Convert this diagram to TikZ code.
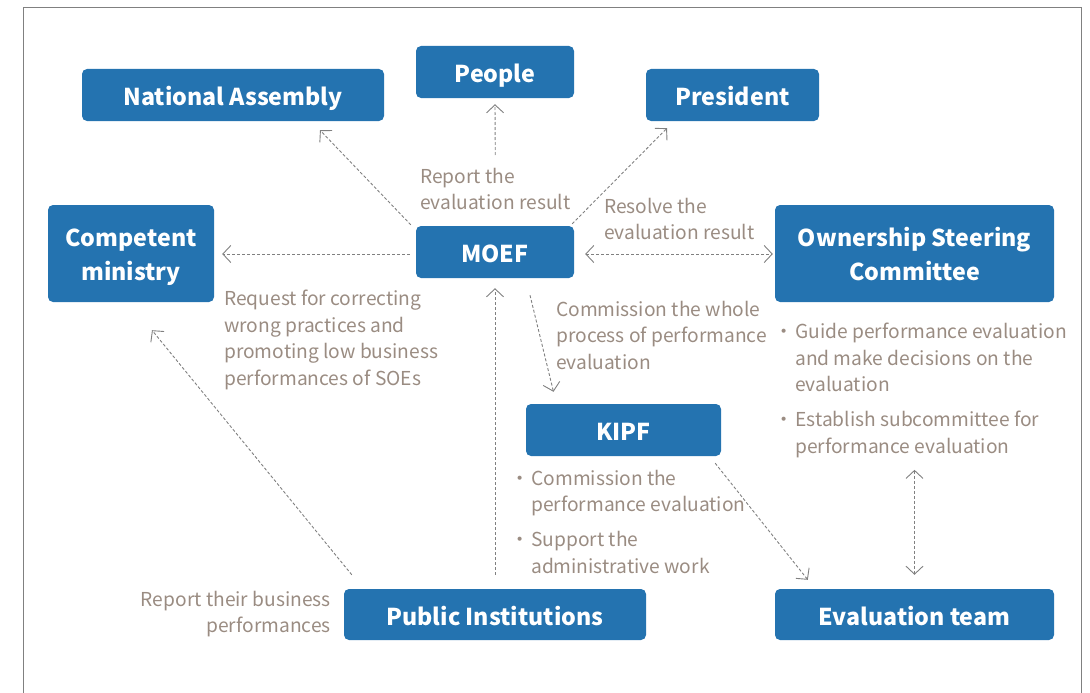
\documentclass[tikz,border=0pt]{standalone}
\usepackage{fontspec}
\setmainfont{Noto Sans CJK KR}
\usetikzlibrary{arrows.meta,calc}
\definecolor{boxblue}{HTML}{2473B0}
\definecolor{notegray}{HTML}{9A8C82}
\definecolor{linegray}{HTML}{808080}
\tikzset{
  orgbox/.style={fill=boxblue, rounded corners=5pt, text=white, inner sep=0pt,
    font=\fontsize{23.2}{34}\selectfont\bfseries, align=center},
  onebox/.style={orgbox, text height=21pt, text depth=0pt},
  twobox/.style={orgbox, text height=53pt, text depth=0pt},
  note/.style={text=notegray, inner sep=0pt, anchor=north west, align=left,
    font=\fontsize{19.2}{26.5}\selectfont},
  conn/.style={draw=linegray, line width=0.9pt, dash pattern=on 3pt off 2pt,
    -{Straight Barb[length=8pt,width=17pt,line width=0.9pt]}},
  biconn/.style={conn, {Straight Barb[length=8pt,width=17pt,line width=0.9pt]}-{Straight Barb[length=8pt,width=17pt,line width=0.9pt]}}
}
\newcommand{\bul}{・\hspace{2pt}}
\newcommand{\ind}{\hspace*{21pt}}
\begin{document}
\begin{tikzpicture}[x=1pt,y=-1pt]
    \useasboundingbox (0,0) rectangle (1090,693);
    % Frame
    \draw[gray, line width=1pt] (23,693) -- (23,7.5) -- (1081,7.5) -- (1081,693);

    % Boxes
    \node[onebox, minimum width=302pt, minimum height=52pt] (na) at (233,95) {National Assembly};
    \node[onebox, minimum width=158pt, minimum height=52pt] (people) at (495,72) {People};
    \node[onebox, minimum width=173pt, minimum height=52pt] (pres) at (732.5,95) {President};
    \node[twobox, minimum width=166pt, minimum height=97pt] (cm) at (131,253.5) {Competent\\ministry};
    \node[onebox, minimum width=158pt, minimum height=52pt] (moef) at (495,252) {MOEF};
    \node[twobox, minimum width=279pt, minimum height=97pt] (osc) at (914.5,253.5) {Ownership Steering\\Committee};
    \node[onebox, minimum width=195pt, minimum height=52pt] (kipf) at (623.5,430) {KIPF};
    \node[onebox, minimum width=302pt, minimum height=51pt] (pi) at (495,614.5) {Public Institutions};
    \node[onebox, minimum width=279pt, minimum height=51pt] (et) at (914.5,614.5) {Evaluation team};

    % Text
    \node[note] (report) at (420,168) {Report the\\evaluation result};
    \node[note] (resolve) at (604,198) {Resolve the\\evaluation result};
    \node[note] (request) at (224,290) {Request for correcting\\wrong practices and\\promoting low business\\performances of SOEs};
    \node[note] (commission) at (556,301) {Commission the whole\\process of performance\\evaluation};
    \node[note] (oscnote) at (774,323) {\bul Guide performance evaluation\\\ind and make decisions on the\\\ind evaluation\\[8.5pt]\bul Establish subcommittee for\\\ind performance evaluation};
    \node[note] (kipfnote) at (510,470) {\bul Commission the\\\ind performance evaluation\\[8.5pt]\bul Support the\\\ind administrative work};
    \node[note, anchor=north east, align=right] (pinote) at (331,591) {Report their business\\performances};

    % Connectors
    \draw[conn] ($(moef.north west)+(-5,-1)$) -- ($(na.south)+(87,9)$);
    \draw[conn] ($(report.north)+(0,-13)$) -- ($(people.south)+(0,6)$);
    \draw[conn] ($(moef.north east)+(-2,-2)$) -- ($(pres.south)+(-65.5,7)$);
    \draw[biconn] ($(moef.east)+(11,2)$) -- ($(osc.west)+(-2,0.5)$);
    \draw[conn] ($(moef.west)+(-6,2)$) -- ($(cm.east)+(8,0.5)$);
    \draw[conn] ($(moef.south)+(35,17)$) -- ($(kipf.north)+(-70,-12)$);
    \draw[conn] ($(pi.north)+(0,-14)$) -- ($(moef.south)+(0,10)$);
    \draw[conn] ($(pi.north west)+(8,-14)$) -- ($(cm.south)+(21,28)$);
    \draw[conn] ($(kipf.south east)+(-6,7)$) -- ($(et.north west)+(33,-9)$);
    \draw[biconn] (oscnote.south -| et.north) ++(0,12) -- ($(et.north)+(0,-14)$);
\end{tikzpicture}
\end{document}
